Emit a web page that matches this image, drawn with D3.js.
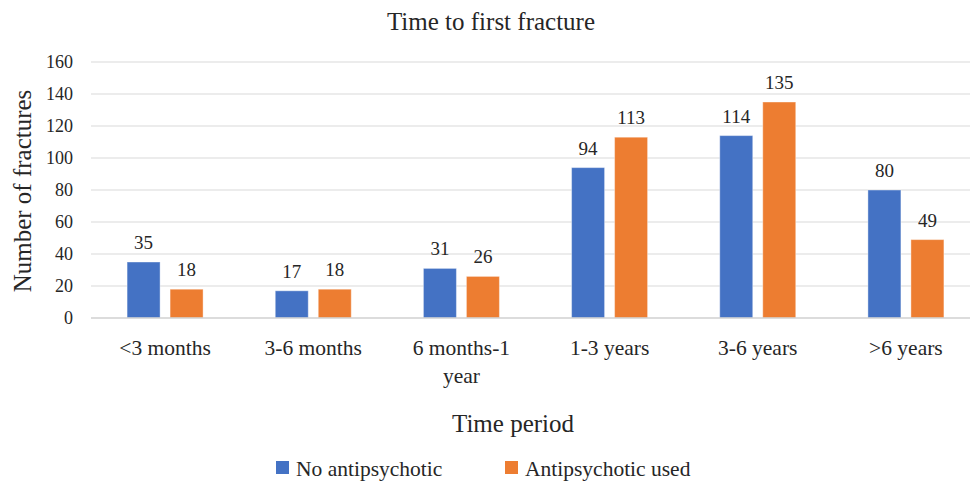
<!DOCTYPE html>
<html>
<head>
<meta charset="utf-8">
<script src="https://cdn.jsdelivr.net/npm/d3@7"></script>
<style>
  body { margin: 0; background: #fff; }
  #wrap { position: relative; width: 970px; height: 483px; }
  #chart { position: absolute; left: 0; top: 0; }
  #labels { position: absolute; left: 0; top: 0; width: 970px; height: 483px; }
  #labels div {
    position: absolute;
    white-space: nowrap;
    font-family: "Liberation Serif", "Tinos", "Times New Roman";
    color: #262626;
  }
</style>
</head>
<body>
<div id="wrap">
<svg id="chart" width="970" height="483"></svg>
<div id="labels"></div>
</div>
<script>
// chart data
const categories = [['<3 months'], ['3-6 months'], ['6 months-1', 'year'], ['1-3 years'], ['3-6 years'], ['>6 years']]
const seriesNames = ['No antipsychotic', 'Antipsychotic used']
const noAntipsychotic = [35, 17, 31, 94, 114, 80]
const antipsychoticUsed = [18, 18, 26, 113, 135, 49]
const yTicks = [0, 20, 40, 60, 80, 100, 120, 140, 160]
const colors = ['#4472C4', '#ED7D31']

const svg = d3.select('#chart')
const layer = d3.select('#labels')
const W = 970

// html text label, y is the baseline
function addLabel(x, y, size, str, anchor) {
    const tx = anchor === 'middle' ? '-50%' : anchor === 'end' ? '-100%' : '0'
    return layer.append('div')
        .style('left', x + 'px')
        .style('top', (y - 0.8375 * size) + 'px')
        .style('font-size', size + 'px')
        .style('line-height', size + 'px')
        .style('transform', `translateX(${tx})`)
        .text(str)
}

const x = d3.scaleBand()
    .domain(d3.range(categories.length))
    .range([91, 980])

const y = d3.scaleLinear()
    .domain([0, 160])
    .range([318, 62])

// gridlines
svg.append('g')
    .selectAll('line')
    .data(yTicks.slice(1))
    .enter()
    .append('line')
    .attr('x1', 91)
    .attr('x2', W)
    .attr('y1', d => y(d))
    .attr('y2', d => y(d))
    .attr('stroke', '#d9d9d9')
    .attr('stroke-width', 1)

// y tick labels
yTicks.forEach(t => addLabel(73, y(t) + 6, 18, t, 'end'))

// bars
const series = [noAntipsychotic, antipsychoticUsed]
const barW = 33
const offsets = [-38, 5]
series.forEach((vals, s) => {
    svg.append('g')
        .selectAll('rect')
        .data(vals)
        .enter()
        .append('rect')
        .attr('x', (d, i) => x(i) + x.bandwidth() / 2 + offsets[s])
        .attr('y', d => y(d))
        .attr('width', barW)
        .attr('height', d => y(0) - y(d))
        .attr('fill', colors[s])
        .attr('stroke', '#fff')
        .attr('stroke-opacity', 0.4)
        .attr('stroke-width', 1)
    vals.forEach((d, i) => {
        addLabel(x(i) + x.bandwidth() / 2 + offsets[s] + barW / 2, y(d) - 13, 19, d, 'middle')
    })
})

// baseline axis
svg.append('line')
    .attr('x1', 91)
    .attr('x2', W)
    .attr('y1', y(0))
    .attr('y2', y(0))
    .attr('stroke', '#d0d0d0')
    .attr('stroke-width', 1.5)

// category labels
categories.forEach((lines, i) => {
    lines.forEach((ln, k) => {
        addLabel(x(i) + x.bandwidth() / 2, 356 + k * 28, 21.5, ln, 'middle')
    })
})

// titles
addLabel(491, 30, 25, 'Time to first fracture', 'middle')
addLabel(513, 432, 25, 'Time period', 'middle')
layer.append('div')
    .style('left', '21.6px')
    .style('top', '191px')
    .style('font-size', '25px')
    .style('line-height', '25px')
    .style('transform', 'translate(-50%, -50%) rotate(-90deg)')
    .text('Number of fractures')

// legend
const legendX = [276, 505]
seriesNames.forEach((name, s) => {
    svg.append('rect')
        .attr('x', legendX[s])
        .attr('y', 461)
        .attr('width', 13)
        .attr('height', 13)
        .attr('fill', colors[s])
    addLabel(legendX[s] + 20, 477, 21.5, name, 'start')
})
</script>
</body>
</html>
